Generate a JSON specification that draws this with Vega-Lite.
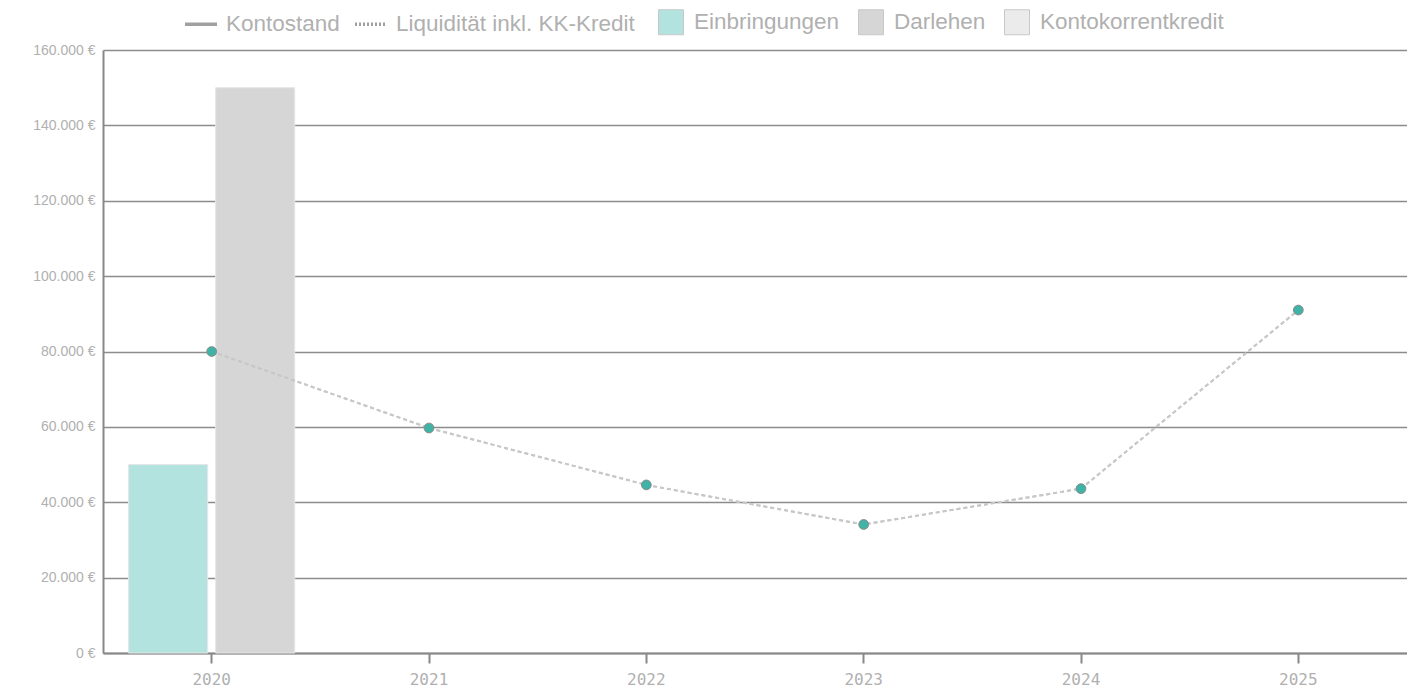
{
  "$schema": "https://vega.github.io/schema/vega-lite/v6.json",
  "autosize": {"type": "none"},
  "padding": {"left": 103, "top": 50, "right": 0, "bottom": 35},
  "width": 1304,
  "height": 603,
  "background": "white",
  "config": {
    "view": {"stroke": null},
    "font": "Liberation Sans",
    "locale": {"number": {"decimal": ",", "thousands": ".", "grouping": [3], "currency": ["", " €"]}}
  },
  "datasets": {
    "bars": [
      {"year": "2020", "art": "Einbringungen", "value": 50000},
      {"year": "2020", "art": "Darlehen", "value": 150000}
    ],
    "lines": [
      {"year": "2020", "linie": "Kontostand", "value": 80000},
      {"year": "2021", "linie": "Kontostand", "value": 59700},
      {"year": "2022", "linie": "Kontostand", "value": 44600},
      {"year": "2023", "linie": "Kontostand", "value": 34100},
      {"year": "2024", "linie": "Kontostand", "value": 43600},
      {"year": "2025", "linie": "Kontostand", "value": 91000},
      {"year": "2020", "linie": "Liquidität inkl. KK-Kredit", "value": 80000},
      {"year": "2021", "linie": "Liquidität inkl. KK-Kredit", "value": 59700},
      {"year": "2022", "linie": "Liquidität inkl. KK-Kredit", "value": 44600},
      {"year": "2023", "linie": "Liquidität inkl. KK-Kredit", "value": 34100},
      {"year": "2024", "linie": "Liquidität inkl. KK-Kredit", "value": 43600},
      {"year": "2025", "linie": "Liquidität inkl. KK-Kredit", "value": 91000}
    ]
  },
  "encoding": {
    "x": {
      "field": "year", "type": "nominal",
      "scale": {"type": "band", "domain": ["2020", "2021", "2022", "2023", "2024", "2025"], "paddingInner": 0, "paddingOuter": 0},
      "axis": {
        "title": null, "labelAngle": 0, "labelFont": "DejaVu Sans Mono", "labelFontSize": 16, "labelColor": "#b0b0b0",
        "labelPadding": 8, "tickSize": 10, "tickColor": "#888888", "tickWidth": 2,
        "domainColor": "#888888", "domainWidth": 2, "grid": false
      }
    },
    "y": {
      "field": "value", "type": "quantitative",
      "scale": {"domain": [0, 160000]},
      "axis": {
        "title": null, "values": [0, 20000, 40000, 60000, 80000, 100000, 120000, 140000, 160000],
        "format": ",.0f", "labelExpr": "datum.label + ' €'",
        "labelFont": "Liberation Sans", "labelFontSize": 14, "labelColor": "#b0b0b0", "labelPadding": 8,
        "ticks": false, "domainColor": "#888888", "domainWidth": 2,
        "grid": true, "gridColor": "#8c8c8c", "gridWidth": 1.5
      }
    }
  },
  "layer": [
    {
      "data": {"name": "bars"},
      "mark": {"type": "bar", "strokeWidth": 1, "stroke": "#e6e6e6"},
      "encoding": {
        "xOffset": {"field": "art", "type": "nominal", "scale": {"domain": ["Einbringungen", "Darlehen"], "paddingInner": 0.092, "paddingOuter": 0.294}},
        "color": {
          "field": "art", "type": "nominal",
          "scale": {
            "domain": ["Einbringungen", "Darlehen", "Kontokorrentkredit"],
            "range": ["#b2e3df", "#d6d6d6", "#ebebeb"]
          },
          "legend": {
            "orient": "none", "legendX": 555, "legendY": -41, "direction": "horizontal", "title": null,
            "labelFont": "Liberation Sans", "labelFontSize": 22.5, "labelColor": "#b0b0b0", "labelLimit": 0,
            "symbolType": "square", "symbolSize": 625, "symbolStrokeColor": "#c8c8c8", "symbolStrokeWidth": 1,
            "labelOffset": 10, "columnPadding": 16
          }
        }
      }
    },
    {
      "data": {"name": "lines"},
      "transform": [{"filter": "false"}],
      "mark": {"type": "line", "color": "#a0a0a0", "strokeWidth": 3},
      "encoding": {
        "strokeDash": {
          "field": "linie", "type": "nominal",
          "scale": {"domain": ["Kontostand", "Liquidität inkl. KK-Kredit"], "range": [[1, 0], [2, 2]]},
          "legend": {
            "orient": "none", "legendX": 80, "legendY": -44, "direction": "horizontal", "title": null,
            "labelFont": "Liberation Sans", "labelFontSize": 22.5, "labelColor": "#b0b0b0", "labelLimit": 0,
            "symbolType": "stroke", "symbolSize": 1024, "symbolStrokeColor": "#a0a0a0", "symbolStrokeWidth": 3.5,
            "labelOffset": 7, "columnPadding": 8
          }
        }
      }
    },
    {
      "data": {"name": "lines"},
      "mark": {"type": "line", "color": "#c8c8c8", "strokeWidth": 2, "strokeDash": [4, 3]},
      "encoding": {"detail": {"field": "linie", "type": "nominal"}}
    },
    {
      "data": {"name": "lines"},
      "transform": [{"filter": "datum.linie == 'Kontostand'"}],
      "mark": {"type": "point", "filled": true, "fill": "#3fb3a6", "stroke": "#8a8a8a", "strokeWidth": 1, "size": 95, "opacity": 1},
      "encoding": {}
    }
  ]
}
